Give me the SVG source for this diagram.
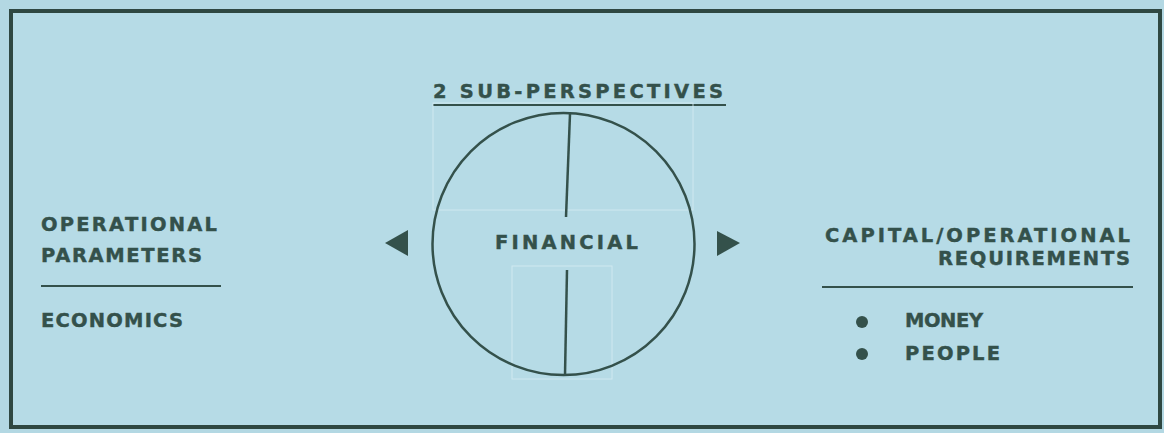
<svg xmlns="http://www.w3.org/2000/svg" width="1164" height="433" viewBox="0 0 1164 433">
  <style>
    .t { font-family: "DejaVu Sans", "Liberation Sans", sans-serif; font-weight: bold; font-size: 19.5px; fill: #34514b; stroke: #34514b; stroke-width: 0.4; }
    .ln { stroke: #34514b; fill: none; }
    .ghost { stroke: #d6ecf2; stroke-width: 1; fill: none; opacity: 0.8; }
    .head { fill: #34514b; }
  </style>
  <rect x="0" y="0" width="1164" height="433" fill="#b3d8e3"/>
  <rect id="frame" x="11" y="11" width="1149" height="416" fill="#b6dbe6" stroke="#2f4842" stroke-width="4"/>

  <g id="title">
    <text class="t" x="433" y="98" textLength="290" lengthAdjust="spacing">2 SUB-PERSPECTIVES</text>
    <line class="ln" x1="433" y1="105" x2="726" y2="105" stroke-width="2"/>
  </g>

  <g id="financial">
    <rect class="ghost" x="433" y="103" width="260" height="107"/>
    <rect class="ghost" x="512" y="266" width="100" height="113"/>
    <circle class="ln" cx="563.5" cy="244" r="131" stroke-width="2.5"/>
    <line class="ln" x1="570" y1="114" x2="566" y2="217" stroke-width="2.5"/>
    <line class="ln" x1="567" y1="270" x2="565" y2="375" stroke-width="2.5"/>
    <text class="t" x="495" y="249" textLength="143" lengthAdjust="spacing">FINANCIAL</text>
  </g>

  <g id="connectors">
    <polygon class="head" points="385,243 408,230 408,256"/>
    <polygon class="head" points="740,243 717,231 717,256"/>
  </g>

  <g id="operational-parameters">
    <text class="t" x="41" y="231" textLength="176" lengthAdjust="spacing">OPERATIONAL</text>
    <text class="t" x="41" y="262" textLength="161" lengthAdjust="spacing">PARAMETERS</text>
    <line class="ln" x1="41" y1="286" x2="221" y2="286" stroke-width="2"/>
    <text class="t" x="41" y="327" textLength="142" lengthAdjust="spacing">ECONOMICS</text>
  </g>

  <g id="capital-requirements">
    <text class="t" x="825" y="242" textLength="305" lengthAdjust="spacing">CAPITAL/OPERATIONAL</text>
    <text class="t" x="938" y="265" textLength="192" lengthAdjust="spacing">REQUIREMENTS</text>
    <line class="ln" x1="822" y1="287" x2="1133" y2="287" stroke-width="2"/>
    <circle class="head" cx="862" cy="322" r="6"/>
    <text class="t" x="905" y="327" textLength="78" lengthAdjust="spacing">MONEY</text>
    <circle class="head" cx="862" cy="354" r="6"/>
    <text class="t" x="905" y="360" textLength="95" lengthAdjust="spacing">PEOPLE</text>
  </g>
</svg>
